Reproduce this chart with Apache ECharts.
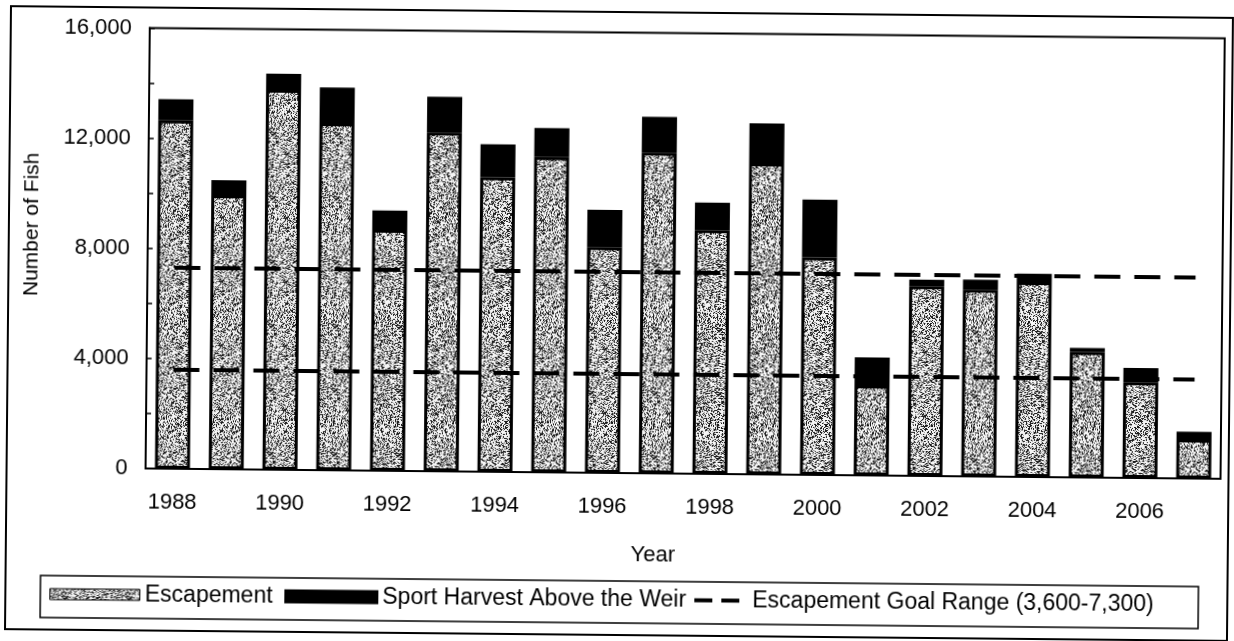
<!DOCTYPE html>
<html>
<head>
<meta charset="utf-8">
<script src="https://cdn.jsdelivr.net/npm/echarts@6/dist/echarts.min.js"></script>
<style>
html,body{margin:0;padding:0;background:#fff;overflow:hidden;}
#chart{width:1234px;height:641px;transform:rotate(0.55deg);transform-origin:617px 320.5px;}
</style>
</head>
<body>
<div id="chart"></div>
<script>
// ---- data ----
const years = ['1988','1989','1990','1991','1992','1993','1994','1995','1996','1997',
               '1998','1999','2000','2001','2002','2003','2004','2005','2006','2007'];
const escapement = [12650, 9950, 13800, 12600, 8750, 12300, 10700, 11450, 8200, 11650,
                    8850, 11300, 7900, 3270, 6890, 6780, 7080, 4560, 3480, 1420];
const harvest = [770, 550, 580, 1300, 700, 1300, 1200, 1050, 1350, 1300,
                 1000, 1450, 2100, 1020, 240, 370, 300, 140, 520, 280];
const goalLow  = [3600,3600,3600,3600,3600,3600,3600,3600,3600,3600,
                  3600,3600,3600,3600,3600,3600,3600,3600,3600,3600];
const goalHigh = [7300,7300,7300,7300,7300,7300,7300,7300,7300,7300,
                  7300,7300,7300,7300,7300,7300,7300,7300,7300,7300];
const yLabelValues = [0, 4000, 8000, 12000, 16000];

// ---- stipple texture (deterministic, decorative only) ----
function makeStipple() {
  const c = document.createElement('canvas');
  c.width = 64; c.height = 64;
  const ctx = c.getContext('2d');
  const img = ctx.createImageData(64, 64);
  for (let y = 0; y < 64; y++) {
    for (let x = 0; x < 64; x++) {
      let h = (x * 374761393 + y * 668265263) >>> 0;
      h = ((h ^ (h >>> 13)) * 1274126177) >>> 0;
      h = (h ^ (h >>> 16)) & 255;
      const v = h < 80 ? 30 : (h < 120 ? 160 : 245);
      const i = (y * 64 + x) * 4;
      img.data[i] = v; img.data[i+1] = v; img.data[i+2] = v; img.data[i+3] = 255;
    }
  }
  ctx.putImageData(img, 0, 0);
  return c;
}
const stipple = { image: makeStipple(), repeat: 'repeat' };

const FONT = '"Liberation Sans", Arial, sans-serif';
const chart = echarts.init(document.getElementById('chart'), null, { renderer: 'canvas' });

const legendText = { fontFamily: FONT, fontSize: 23, color: '#000' };

chart.setOption({
  animation: false,
  backgroundColor: '#fff',
  grid: { left: 147, right: 12, top: 32.5, bottom: 168, show: true, borderColor: '#000', borderWidth: 2, containLabel: false },
  xAxis: {
    type: 'category',
    data: years,
    axisLine: { lineStyle: { color: '#000', width: 2 } },
    axisTick: { inside: true, length: 6, interval: 0, lineStyle: { color: '#000', width: 1.5 } },
    axisLabel: { interval: 1, fontFamily: FONT, fontSize: 22, color: '#000', margin: 23 },
    splitLine: { show: false }
  },
  yAxis: {
    type: 'value',
    min: 0, max: 16000, interval: 2000,
    axisLine: { show: true, lineStyle: { color: '#000', width: 2 } },
    axisTick: { show: true, inside: true, length: 5, lineStyle: { color: '#000', width: 1.5 } },
    axisLabel: {
      fontFamily: FONT, fontSize: 22, color: '#000', margin: 18,
      formatter: v => yLabelValues.indexOf(v) >= 0 ? v.toLocaleString('en-US') : ''
    },
    splitLine: { show: false }
  },
  legend: [
    { left: 52, top: 588, padding: 0, itemWidth: 90, itemHeight: 11, icon: 'rect',
      data: ['Escapement'], textStyle: legendText, itemStyle: { borderWidth: 1 } },
    { left: 287, top: 588, padding: 0, itemWidth: 92, itemHeight: 12, icon: 'rect',
      data: ['Sport Harvest Above the Weir'], textStyle: legendText },
    { left: 695, top: 588, padding: 0, itemWidth: 53, itemHeight: 10,
      data: ['Escapement Goal Range (3,600-7,300)'], textStyle: legendText,
      itemStyle: { opacity: 0 },
      lineStyle: { type: [18, 9], width: 4, color: '#000' } }
  ],
  graphic: [
    { type: 'rect', shape: { x: 8, y: 12, width: 1222, height: 623 },
      style: { fill: 'none', stroke: '#000', lineWidth: 2 }, z: 100 },
    { type: 'rect', shape: { x: 43, y: 581, width: 1158, height: 42 },
      style: { fill: 'none', stroke: '#000', lineWidth: 1.5 }, z: 100 },
    { type: 'text', x: 655, y: 555,
      style: { text: 'Year', font: '22px ' + FONT, fill: '#000', align: 'center', verticalAlign: 'middle' } },
    { type: 'text', x: 31, y: 230, rotation: Math.PI / 2,
      style: { text: 'Number of Fish', font: '21px ' + FONT, fill: '#000', align: 'center', verticalAlign: 'middle' } }
  ],
  series: [
    { name: 'Escapement', type: 'bar', stack: 'fish', data: escapement, barWidth: 35,
      itemStyle: { color: stipple, borderColor: '#000', borderWidth: 3 } },
    { name: 'Sport Harvest Above the Weir', type: 'bar', stack: 'fish', data: harvest, barWidth: 35,
      itemStyle: { color: '#000', borderColor: '#000', borderWidth: 3 } },
    { name: 'Escapement Goal Range (3,600-7,300)', type: 'line', data: goalHigh, symbol: 'none', z: 5,
      itemStyle: { color: '#000' },
      lineStyle: { color: '#000', width: 4, type: [26, 14] } },
    { name: 'Escapement Goal Range (3,600-7,300)', type: 'line', data: goalLow, symbol: 'none', z: 5,
      itemStyle: { color: '#000' },
      lineStyle: { color: '#000', width: 4, type: [26, 14] } }
  ]
});
</script>
</body>
</html>
